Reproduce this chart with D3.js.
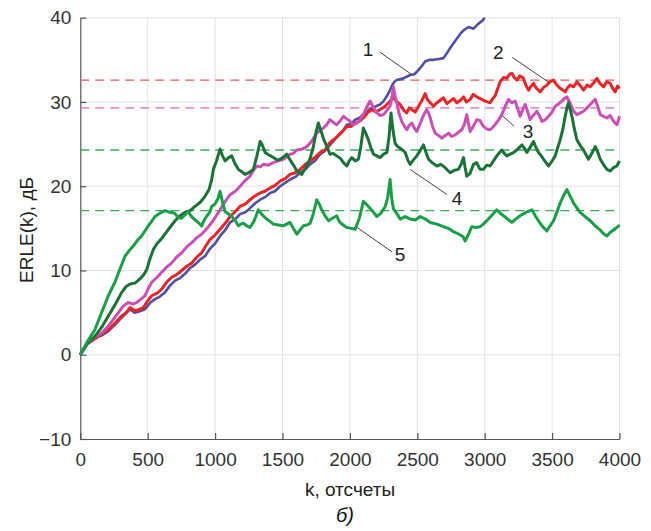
<!DOCTYPE html>
<html><head><meta charset="utf-8">
<script src="https://cdn.jsdelivr.net/npm/d3@7"></script>
<style>
html,body{margin:0;padding:0;background:#fff;}
svg{display:block;font-family:"Liberation Sans",Arial,sans-serif;}
</style></head>
<body><svg id="c" width="651" height="531"></svg>
<script>
const xTicks = [0,500,1000,1500,2000,2500,3000,3500,4000];
const yTicks = [-10,0,10,20,30,40];
const xLabel = "k, отсчеты";
const yLabel = "ERLE(k), дБ";
const caption = "б)";

// steady-state reference levels (dashed)
const refLevels = [32.6, 29.3, 24.3, 17.1];
const refNames = ["2","3","4","5"];

const s1 = [[0,0],[50,1.2],[109,2.0],[160,2.3],[208,2.8],[260,3.6],[307,4.4],[369,5.4],[400,5.0],[431,5.1],[480,5.4],[520,6.2],[555,6.6],[590,6.9],[628,7.4],[665,8.2],[703,8.8],[740,9.1],[777,9.6],[815,10.3],[851,10.7],[890,11.3],[925,11.7],[963,12.6],[1000,13.2],[1037,14.1],[1075,14.8],[1111,15.7],[1150,16.1],[1185,16.7],[1225,16.9],[1259,17.4],[1300,18.0],[1334,18.4],[1370,18.7],[1408,19.2],[1445,19.4],[1482,20.0],[1520,20.4],[1556,20.8],[1595,21.1],[1631,21.6],[1670,22.0],[1705,22.6],[1740,23.0],[1779,23.8],[1815,24.2],[1853,24.9],[1885,25.5],[1915,26.1],[1950,26.6],[1977,27.3],[2010,27.4],[2039,27.9],[2070,28.1],[2100,28.5],[2130,28.9],[2162,29.3],[2195,29.5],[2224,29.7],[2250,30.1],[2274,30.7],[2295,31.3],[2311,31.9],[2330,32.4],[2348,32.6],[2397,32.8],[2447,33.2],[2480,33.3],[2509,33.8],[2535,34.3],[2558,34.8],[2590,35.0],[2620,35.0],[2660,35.1],[2694,35.2],[2720,35.8],[2744,36.4],[2770,37.0],[2793,37.5],[2820,38.1],[2843,38.5],[2880,38.9],[2917,38.7],[2954,39.3],[2980,39.6],[3000,40.0]];

const s2 = [[0,0],[50,1.3],[109,1.9],[160,2.5],[208,3.0],[260,3.8],[307,4.6],[340,5.0],[369,5.6],[406,5.2],[440,5.4],[468,5.6],[500,6.4],[530,7.0],[570,7.3],[604,7.8],[640,8.6],[678,9.2],[715,9.5],[752,10.0],[790,10.5],[827,10.9],[865,11.6],[900,12.1],[930,12.9],[963,13.7],[1000,14.2],[1037,14.9],[1075,15.6],[1111,16.4],[1150,17.0],[1185,17.6],[1225,17.9],[1259,18.4],[1300,18.9],[1334,19.2],[1370,19.4],[1408,19.8],[1445,20.1],[1482,20.6],[1520,20.9],[1556,21.4],[1595,21.6],[1631,22.0],[1670,22.6],[1705,23.0],[1740,23.4],[1779,24.0],[1815,24.3],[1853,25.2],[1885,25.6],[1915,26.0],[1950,26.6],[1977,27.1],[2010,27.1],[2039,27.5],[2070,27.7],[2100,28.1],[2130,28.7],[2162,29.1],[2195,28.8],[2224,29.1],[2255,29.4],[2286,29.9],[2323,30.5],[2350,30.0],[2373,29.7],[2400,29.0],[2422,28.7],[2440,29.3],[2459,29.1],[2485,28.8],[2509,29.5],[2535,30.2],[2558,31.0],[2575,30.3],[2596,29.9],[2620,29.5],[2645,29.9],[2670,30.2],[2694,30.5],[2720,29.8],[2744,30.1],[2770,30.4],[2793,29.9],[2820,30.2],[2843,30.6],[2865,30.0],[2892,30.3],[2915,30.9],[2941,30.6],[2966,30.4],[3003,30.1],[3040,29.9],[3060,30.4],[3077,30.7],[3095,31.5],[3114,32.4],[3140,32.9],[3164,32.8],[3185,33.3],[3201,33.4],[3220,32.9],[3239,32.6],[3260,33.1],[3288,32.8],[3305,32.0],[3325,31.4],[3345,31.9],[3362,32.2],[3385,31.6],[3412,31.2],[3435,31.7],[3461,32.0],[3485,32.4],[3511,32.6],[3530,32.1],[3548,31.8],[3570,31.5],[3597,31.2],[3615,31.7],[3634,32.0],[3660,31.8],[3684,32.4],[3710,31.9],[3733,31.4],[3760,32.0],[3783,31.8],[3810,32.3],[3832,32.8],[3855,32.2],[3882,31.8],[3905,32.4],[3931,32.2],[3950,31.6],[3968,31.2],[3985,31.9],[4000,31.6]];

const s3 = [[0,0],[50,1.3],[109,2.1],[160,2.6],[208,3.4],[245,4.2],[282,5.0],[320,5.8],[356,6.2],[390,6.0],[418,6.2],[450,6.6],[480,7.0],[505,7.9],[530,8.6],[570,9.2],[604,9.8],[640,10.4],[678,10.9],[715,11.6],[752,12.1],[790,12.8],[827,13.3],[865,13.9],[900,14.3],[940,15.0],[975,15.7],[1005,16.4],[1037,17.2],[1075,18.2],[1111,19.0],[1150,19.4],[1185,20.0],[1225,20.7],[1259,21.2],[1285,21.9],[1309,22.4],[1335,22.3],[1358,22.6],[1395,22.5],[1432,22.8],[1470,23.0],[1507,23.2],[1530,23.5],[1556,23.8],[1580,23.9],[1606,24.3],[1645,24.4],[1680,24.7],[1715,25.3],[1754,26.3],[1790,26.7],[1828,27.3],[1852,27.9],[1875,27.6],[1902,27.3],[1930,27.8],[1952,28.3],[1975,28.0],[2001,27.7],[2025,27.3],[2051,27.5],[2075,27.9],[2100,28.5],[2125,29.4],[2150,30.1],[2175,29.3],[2200,28.7],[2225,28.4],[2249,28.5],[2275,29.0],[2298,29.5],[2312,30.6],[2323,31.8],[2335,30.7],[2348,29.9],[2365,28.6],[2385,27.7],[2405,27.1],[2422,26.7],[2440,27.2],[2459,27.5],[2478,26.9],[2496,26.5],[2515,27.2],[2533,27.9],[2552,28.6],[2571,29.1],[2585,28.6],[2596,28.1],[2615,27.0],[2633,26.3],[2660,26.0],[2682,25.7],[2705,26.0],[2732,26.3],[2755,25.9],[2781,26.1],[2805,26.4],[2830,26.7],[2850,27.4],[2867,28.5],[2880,27.4],[2892,26.5],[2915,27.1],[2941,27.9],[2965,27.8],[2990,27.1],[3015,26.8],[3040,26.7],[3060,27.0],[3077,27.3],[3100,27.8],[3127,28.5],[3150,29.4],[3177,30.3],[3200,29.9],[3226,30.1],[3245,29.2],[3263,28.3],[3280,29.0],[3300,29.7],[3320,28.8],[3337,27.9],[3360,28.4],[3387,28.9],[3405,28.4],[3424,27.7],[3450,27.9],[3474,28.3],[3500,28.8],[3523,29.5],[3550,29.8],[3572,30.1],[3590,30.4],[3610,30.6],[3630,30.0],[3647,29.3],[3665,28.8],[3684,28.5],[3710,28.7],[3733,28.9],[3760,29.3],[3783,29.7],[3800,30.0],[3820,30.3],[3840,29.4],[3857,28.5],[3880,28.3],[3907,28.1],[3930,28.4],[3956,27.7],[3981,27.3],[4000,28.3]];

const s4 = [[0,0],[50,1.3],[109,2.2],[160,3.3],[208,4.6],[260,6.0],[307,7.4],[340,8.1],[369,8.4],[405,8.5],[443,9.0],[470,9.5],[493,10.1],[515,11.3],[542,12.5],[570,13.2],[604,13.8],[650,14.8],[703,15.9],[740,16.5],[777,16.9],[815,17.1],[851,17.6],[890,18.1],[925,18.8],[955,19.6],[975,20.8],[987,22.0],[1010,23.0],[1037,24.4],[1055,23.6],[1074,23.0],[1100,23.4],[1123,23.6],[1150,22.6],[1173,22.0],[1200,21.7],[1222,21.4],[1250,21.6],[1284,22.0],[1310,23.6],[1334,25.3],[1350,24.9],[1371,24.0],[1400,23.7],[1432,23.4],[1460,23.1],[1482,23.2],[1510,23.5],[1532,23.8],[1550,23.3],[1569,22.8],[1590,22.3],[1606,21.8],[1625,21.6],[1643,21.4],[1660,21.9],[1680,22.4],[1705,23.3],[1729,24.7],[1750,26.5],[1766,27.5],[1780,26.8],[1791,26.3],[1805,25.6],[1816,25.2],[1835,24.5],[1852,23.8],[1875,23.9],[1902,23.6],[1930,23.3],[1952,22.8],[1977,22.4],[1995,23.0],[2014,23.4],[2040,23.0],[2063,23.2],[2080,24.6],[2100,26.9],[2120,26.2],[2137,25.5],[2155,24.6],[2175,23.8],[2200,23.6],[2224,23.4],[2250,23.8],[2274,24.0],[2290,25.8],[2305,28.7],[2320,26.6],[2335,25.1],[2355,24.7],[2373,24.5],[2390,24.3],[2410,24.0],[2430,23.1],[2447,22.6],[2470,23.1],[2496,23.6],[2520,24.2],[2546,24.9],[2565,24.0],[2583,23.2],[2610,22.8],[2645,22.4],[2675,22.6],[2707,22.2],[2725,21.9],[2744,21.6],[2775,21.9],[2805,22.0],[2825,22.6],[2843,23.4],[2855,22.2],[2867,21.2],[2890,21.5],[2917,22.6],[2940,22.8],[2966,22.0],[2990,22.0],[3015,22.5],[3040,22.4],[3065,23.0],[3090,23.6],[3110,24.0],[3127,24.3],[3145,23.9],[3164,23.6],[3190,23.8],[3214,24.0],[3245,24.4],[3276,24.9],[3295,24.5],[3313,24.0],[3340,24.7],[3362,25.3],[3380,24.6],[3399,24.0],[3420,23.6],[3437,23.2],[3455,22.8],[3474,22.4],[3500,23.0],[3523,23.6],[3540,24.5],[3560,25.5],[3580,26.8],[3597,28.3],[3610,29.3],[3622,29.9],[3635,29.1],[3647,28.3],[3665,26.8],[3684,25.5],[3710,24.8],[3733,24.3],[3750,23.8],[3770,23.2],[3795,23.9],[3820,24.7],[3840,24.0],[3857,23.2],[3880,22.6],[3907,22.0],[3930,21.8],[3956,22.2],[3980,22.4],[4000,23.0]];

const s5 = [[0,0],[50,1.5],[109,3.0],[158,5.0],[208,7.0],[232,7.8],[257,8.6],[295,10.2],[332,11.7],[360,12.3],[393,12.9],[425,13.6],[455,14.1],[505,15.3],[554,16.4],[590,16.8],[628,17.1],[665,16.9],[700,16.8],[725,16.3],[750,16.2],[775,16.6],[800,17.0],[825,16.4],[851,16.0],[875,15.7],[900,15.3],[920,16.0],[940,16.5],[960,16.9],[975,17.6],[1000,17.9],[1020,18.5],[1037,19.4],[1055,18.1],[1074,17.0],[1100,16.7],[1123,16.4],[1150,15.9],[1173,15.3],[1190,15.5],[1210,15.6],[1235,15.3],[1259,15.1],[1290,15.9],[1321,17.2],[1350,16.6],[1383,16.1],[1410,15.8],[1432,15.5],[1470,15.4],[1507,15.3],[1530,15.5],[1556,15.7],[1580,15.0],[1606,14.3],[1630,14.8],[1655,15.3],[1680,15.4],[1705,15.6],[1730,16.8],[1754,18.4],[1775,17.8],[1791,17.2],[1815,16.5],[1841,15.9],[1870,16.2],[1903,16.5],[1915,16.0],[1927,15.7],[1950,15.4],[1977,15.1],[2010,15.0],[2039,14.9],[2070,16.2],[2100,18.2],[2120,17.9],[2137,17.6],[2170,17.0],[2200,16.4],[2230,16.8],[2262,17.6],[2280,18.6],[2298,20.8],[2310,18.6],[2323,17.3],[2350,16.7],[2373,16.1],[2410,16.4],[2447,16.1],[2485,16.0],[2521,16.4],[2560,16.1],[2596,15.7],[2645,15.5],[2694,15.2],[2730,15.0],[2768,14.6],[2810,14.3],[2840,14.0],[2855,13.5],[2880,14.3],[2904,15.2],[2935,15.1],[2966,15.2],[2990,15.5],[3015,15.9],[3050,16.5],[3090,17.2],[3115,16.8],[3140,16.5],[3170,16.1],[3201,15.7],[3230,16.1],[3263,16.5],[3305,16.9],[3350,17.2],[3375,16.5],[3399,15.9],[3430,15.2],[3461,14.7],[3485,15.3],[3511,15.9],[3535,16.9],[3560,18.0],[3585,18.9],[3610,19.6],[3635,18.8],[3659,18.0],[3685,17.4],[3708,16.9],[3745,16.4],[3783,15.9],[3820,15.3],[3857,14.8],[3880,14.4],[3907,14.1],[3930,14.5],[3956,14.8],[3980,15.1],[4000,15.4]];

const seriesNames = ["1","2","3","4","5"];
const seriesData = [s1, s2, s3, s4, s5];
const seriesColors = ["#4f4fa6","#ec2326","#cc4fb6","#1a7336","#17a045"];
const refColors = ["#ec5a5a","#d468c4","#3aab5a","#3aab5a"];

// annotation labels: [name, labelK, labelY, fromK, fromY, toK, toY]
const annotations = [
  ["1", 2135, 36.2, 2224, 35.9, 2454, 33.3],
  ["2", 3100, 35.9, 3204, 35.3, 3478, 32.3],
  ["3", 3322, 26.5, 3219, 27.1, 3130, 28.4],
  ["4", 2795, 18.6, 2721, 19.0, 2447, 22.0],
  ["5", 2372, 11.9, 2313, 12.2, 2054, 15.1]
];

const svg = d3.select("#c");
const m = {left: 80.3, right: 619.5, top: 17.7, bottom: 439};
const x = d3.scaleLinear().domain([0,4000]).range([m.left, m.right]);
const y = d3.scaleLinear().domain([-10,40]).range([m.bottom, m.top]);

// grid
const grid = svg.append("g");
grid.selectAll(".gx").data(xTicks.filter(d=>d>0)).enter().append("line")
  .attr("x1",d=>x(d)).attr("x2",d=>x(d)).attr("y1",y(-10)).attr("y2",y(40))
  .attr("stroke","#e2e2e2").attr("stroke-width",1);
grid.selectAll(".gy").data(yTicks.filter(d=>d>-10)).enter().append("line")
  .attr("x1",x(0)).attr("x2",x(4000)).attr("y1",d=>y(d)).attr("y2",d=>y(d))
  .attr("stroke","#e2e2e2").attr("stroke-width",1);

// axes
const fmt = d3.format("d");
const xAxis = svg.append("g").attr("transform",`translate(0,${y(-10)})`)
  .call(d3.axisBottom(x).tickValues(xTicks).tickFormat(fmt).tickSizeInner(-6).tickSizeOuter(0).tickPadding(14));
const yAxis = svg.append("g").attr("transform",`translate(${x(0)},0)`)
  .call(d3.axisLeft(y).tickValues(yTicks).tickFormat(fmt).tickSizeInner(-6).tickSizeOuter(0).tickPadding(9));
[xAxis,yAxis].forEach(a=>{
  a.select(".domain").attr("stroke","#555").attr("stroke-width",1.2);
  a.selectAll(".tick line").attr("stroke","#555").attr("stroke-width",1.2);
  a.selectAll("text").attr("fill","#333").attr("font-size","19px")
    .attr("font-family","'Liberation Sans',Arial,sans-serif");
});

// reference dashed lines
svg.append("g").selectAll("line").data(refLevels).enter().append("line")
  .attr("x1",x(0)).attr("x2",x(4000)).attr("y1",d=>y(d)).attr("y2",d=>y(d))
  .attr("stroke",(d,i)=>refColors[i]).attr("stroke-width",1.3)
  .attr("stroke-dasharray","9,6");

// series
const line = d3.line().x(d=>x(d[0])).y(d=>y(d[1]));
svg.append("g").selectAll("path").data(seriesData).enter().append("path")
  .attr("d",line).attr("fill","none")
  .attr("stroke",(d,i)=>seriesColors[i])
  .attr("stroke-width",(d,i)=> i===0 ? 2.6 : 3)
  .attr("stroke-linejoin","round");

// annotations
const ann = svg.append("g");
ann.selectAll("line").data(annotations).enter().append("line")
  .attr("x1",d=>x(d[3])).attr("y1",d=>y(d[4]))
  .attr("x2",d=>x(d[5])).attr("y2",d=>y(d[6]))
  .attr("stroke","#444").attr("stroke-width",1);
ann.selectAll("text").data(annotations).enter().append("text")
  .attr("x",d=>x(d[1])).attr("y",d=>y(d[2]))
  .attr("text-anchor","middle").attr("dominant-baseline","central")
  .attr("font-size","19px").attr("fill","#222").text(d=>d[0]);

// titles
svg.append("text").attr("x",350).attr("y",496).attr("text-anchor","middle")
  .attr("font-size","19px").attr("fill","#222").text(xLabel);
svg.append("text").attr("transform","translate(33,230) rotate(-90)")
  .attr("text-anchor","middle").attr("font-size","19px").attr("fill","#222").text(yLabel);
svg.append("text").attr("x",345).attr("y",522).attr("text-anchor","middle")
  .attr("font-size","20px").attr("font-style","italic").attr("fill","#111").text(caption);
</script>
</body></html>
